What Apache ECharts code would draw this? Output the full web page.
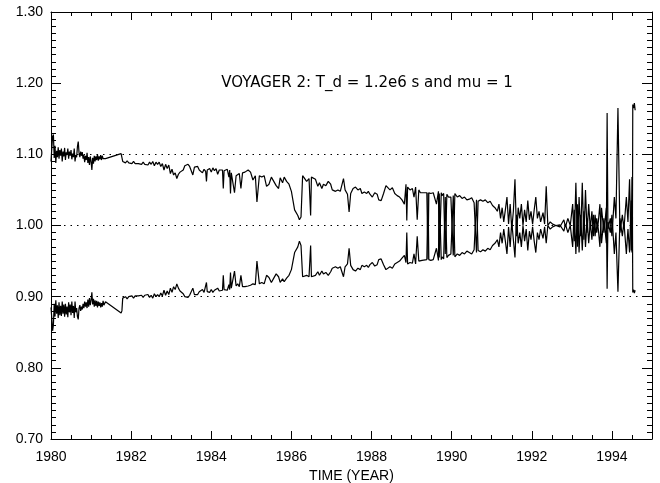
<!DOCTYPE html>
<html>
<head>
<meta charset="utf-8">
<script src="https://cdn.jsdelivr.net/npm/echarts@6/dist/echarts.min.js"></script>
<style>
  html, body { margin: 0; padding: 0; background: #fff; }
  #chart { width: 660px; height: 483px; }
</style>
</head>
<body>
<div id="chart"></div>
<script>
// time in decimal years
var years = [
  1980.00,1980.02,1980.04,1980.06,1980.08,1980.10,1980.12,1980.14,1980.16,1980.18,
  1980.20,1980.22,1980.24,1980.26,1980.28,1980.30,1980.32,1980.34,1980.36,1980.38,
  1980.40,1980.42,1980.44,1980.46,1980.48,1980.50,1980.52,1980.54,1980.56,1980.58,
  1980.60,1980.62,1980.64,1980.66,1980.68,1980.70,1980.72,1980.74,1980.76,1980.78,
  1980.80,1980.82,1980.84,1980.86,1980.88,1980.90,1980.92,1980.94,1980.96,1980.98,
  1981.00,1981.02,1981.04,1981.06,1981.08,1981.10,1981.12,1981.14,1981.16,1981.18,
  1981.20,1981.22,1981.24,1981.26,1981.28,1981.30,1981.32,1981.36,
  1981.75,1981.77,1981.79,1981.82,1981.86,1981.90,1981.94,1981.98,1982.02,1982.06,
  1982.10,1982.14,1982.18,1982.22,1982.26,1982.30,1982.34,1982.38,1982.42,1982.46,
  1982.50,1982.54,1982.58,1982.62,1982.66,1982.70,1982.74,1982.78,1982.82,1982.86,
  1982.90,1982.94,1982.98,1983.02,1983.06,1983.10,1983.14,1983.18,1983.22,1983.26,
  1983.30,1983.34,1983.38,1983.42,1983.46,1983.50,1983.54,1983.58,1983.62,1983.66,
  1983.70,1983.74,1983.78,1983.82,1983.86,1983.88,1983.90,1983.96,1984.00,1984.04,
  1984.08,1984.12,1984.16,1984.20,1984.24,1984.28,1984.30,1984.32,1984.40,1984.44,
  1984.46,1984.48,1984.50,1984.54,1984.58,1984.62,1984.66,1984.70,1984.74,1984.78,
  1984.84,1984.92,1984.98,1985.04,1985.08,1985.10,1985.14,1985.17,1985.20,1985.26,
  1985.32,1985.38,1985.44,1985.50,1985.56,1985.62,1985.68,1985.72,1985.78,1985.82,
  1985.88,1985.94,1986.00,1986.04,1986.08,1986.12,1986.16,1986.20,1986.24,1986.28,
  1986.32,1986.38,1986.44,1986.48,1986.50,1986.54,1986.60,1986.66,1986.70,1986.76,
  1986.80,1986.86,1986.92,1986.98,1987.02,1987.06,1987.10,1987.16,1987.22,1987.26,
  1987.30,1987.34,1987.40,1987.44,1987.48,1987.54,1987.60,1987.66,1987.72,1987.76,
  1987.82,1987.88,1987.92,1987.96,1988.02,1988.08,1988.14,1988.18,1988.24,1988.30,
  1988.36,1988.40,1988.46,1988.52,1988.58,1988.64,1988.70,1988.76,1988.82,1988.86,
  1988.88,1988.90,1988.96,1989.02,1989.06,1989.10,1989.14,1989.18,1989.22,1989.26,
  1989.38,1989.41,1989.43,1989.48,1989.54,1989.58,1989.62,1989.67,1989.69,1989.74,
  1989.76,1989.80,1989.84,1989.88,1989.92,1989.98,1990.04,1990.08,1990.14,1990.20,
  1990.26,1990.32,1990.38,1990.44,1990.50,1990.56,1990.62,1990.66,1990.72,1990.78,
  1990.84,1990.90,1990.96,1991.02,1991.08,1991.14,1991.18,1991.22,1991.26,1991.30,
  1991.34,1991.38,1991.42,1991.46,1991.50,1991.54,1991.58,1991.62,1991.66,1991.70,
  1991.74,1991.78,1991.82,1991.86,1991.90,1991.94,1991.98,1992.02,1992.06,1992.10,
  1992.14,1992.18,1992.22,1992.28,1992.32,1992.36,1992.40,1992.46,1992.52,1992.60,
  1992.70,1992.80,1992.84,1992.90,1992.96,1993.02,1993.06,1993.10,1993.14,1993.18,
  1993.22,1993.26,1993.30,1993.34,1993.38,1993.42,1993.46,1993.50,1993.54,1993.58,
  1993.62,1993.66,1993.70,1993.74,1993.80,1993.86,1993.88,1993.90,1993.96,1994.00,
  1994.06,1994.10,1994.15,1994.20,1994.26,1994.30,1994.36,1994.40,1994.44,1994.48,
  1994.50,1994.51,1994.52,1994.54,1994.56,1994.58
];

// upper branch
var upper = [
  1.090,1.108,1.125,1.128,1.095,1.112,1.088,1.105,1.096,1.110,
  1.094,1.106,1.098,1.108,1.090,1.104,1.097,1.109,1.092,1.103,
  1.099,1.108,1.094,1.104,1.098,1.106,1.093,1.101,1.096,1.108,
  1.090,1.099,1.096,1.111,1.118,1.102,1.096,1.104,1.098,1.103,
  1.094,1.099,1.089,1.098,1.092,1.102,1.088,1.096,1.085,1.097,
  1.090,1.078,1.095,1.087,1.098,1.090,1.097,1.092,1.100,1.091,
  1.097,1.093,1.099,1.092,1.098,1.094,1.096,1.094,
  1.101,1.099,1.090,1.092,1.088,1.091,1.088,1.090,1.087,1.090,
  1.087,1.089,1.087,1.089,1.086,1.089,1.086,1.088,1.085,1.089,
  1.086,1.090,1.084,1.089,1.086,1.089,1.083,1.087,1.078,1.086,
  1.080,1.085,1.073,1.079,1.071,1.074,1.066,1.072,1.075,1.073,
  1.078,1.084,1.082,1.086,1.083,1.085,1.071,1.082,1.080,1.083,
  1.078,1.080,1.074,1.079,1.076,1.062,1.078,1.080,1.075,1.081,
  1.077,1.080,1.072,1.078,1.076,1.078,1.052,1.077,1.079,1.068,
  1.078,1.045,1.074,1.076,1.046,1.070,1.068,1.073,1.052,1.074,
  1.075,1.078,1.075,1.064,1.062,1.070,1.033,1.034,1.070,1.068,
  1.070,1.055,1.058,1.068,1.062,1.056,1.052,1.067,1.060,1.068,
  1.062,1.058,1.048,1.035,1.022,1.024,1.014,1.008,1.012,1.070,
  1.068,1.062,1.066,1.014,1.068,1.070,1.065,1.055,1.060,1.052,
  1.058,1.056,1.062,1.058,1.050,1.052,1.048,1.050,1.048,1.048,
  1.066,1.050,1.044,1.019,1.045,1.052,1.054,1.050,1.052,1.045,
  1.047,1.045,1.048,1.044,1.040,1.046,1.044,1.036,1.035,1.045,
  1.056,1.054,1.050,1.053,1.045,1.042,1.040,1.036,1.030,1.058,
  1.007,1.054,1.050,1.052,1.040,1.054,1.008,1.050,1.046,1.047,
  1.046,0.953,1.046,1.045,1.046,1.044,1.030,1.048,0.955,1.046,
  1.042,1.045,0.960,1.044,1.040,1.040,0.958,1.045,1.040,1.042,
  1.038,1.040,1.036,1.037,1.039,1.032,0.962,1.034,1.036,1.034,
  1.036,1.032,1.034,1.028,1.025,1.020,1.030,1.010,1.025,1.005,
  1.022,1.040,1.002,1.030,0.995,1.020,1.065,0.985,1.025,1.010,
  1.030,1.000,1.022,1.005,1.035,1.008,1.020,1.002,1.022,1.040,
  1.010,1.020,1.005,1.018,1.002,1.055,1.000,1.005,1.002,1.000,
  0.998,1.008,0.998,1.010,1.000,1.030,0.978,1.060,0.970,1.040,
  0.985,1.060,0.980,1.050,0.990,1.030,0.995,1.020,0.985,1.015,
  0.990,1.005,1.030,0.975,1.010,0.975,1.158,0.995,1.010,0.985,
  1.040,1.010,1.165,0.990,1.015,0.995,1.040,1.005,1.065,0.965,
  1.068,0.965,1.170,1.165,1.172,1.162
];

// lower branch
var lower = [
  0.885,0.870,0.852,0.860,0.890,0.872,0.895,0.876,0.888,0.870,
  0.892,0.874,0.887,0.873,0.893,0.876,0.889,0.872,0.890,0.875,
  0.886,0.871,0.892,0.878,0.889,0.874,0.893,0.877,0.887,0.870,
  0.893,0.878,0.884,0.872,0.868,0.884,0.888,0.880,0.886,0.882,
  0.890,0.884,0.893,0.886,0.892,0.884,0.896,0.886,0.898,0.888,
  0.895,0.906,0.889,0.897,0.886,0.895,0.887,0.894,0.885,0.893,
  0.887,0.892,0.885,0.891,0.886,0.894,0.888,0.893,
  0.877,0.880,0.898,0.896,0.900,0.897,0.900,0.898,0.901,0.898,
  0.901,0.899,0.901,0.899,0.902,0.899,0.902,0.900,0.903,0.899,
  0.902,0.898,0.904,0.900,0.903,0.900,0.905,0.901,0.909,0.902,
  0.908,0.903,0.912,0.906,0.914,0.910,0.918,0.912,0.908,0.910,
  0.904,0.900,0.902,0.899,0.902,0.901,0.912,0.903,0.905,0.903,
  0.907,0.905,0.910,0.906,0.908,0.920,0.907,0.906,0.910,0.906,
  0.909,0.907,0.912,0.908,0.910,0.909,0.930,0.910,0.909,0.917,
  0.910,0.934,0.912,0.911,0.936,0.915,0.918,0.914,0.930,0.914,
  0.914,0.915,0.916,0.918,0.920,0.917,0.950,0.948,0.918,0.920,
  0.918,0.930,0.927,0.920,0.926,0.932,0.928,0.920,0.925,0.921,
  0.926,0.930,0.938,0.950,0.962,0.960,0.970,0.978,0.972,0.928,
  0.927,0.930,0.928,0.972,0.928,0.926,0.930,0.935,0.930,0.936,
  0.932,0.934,0.930,0.935,0.940,0.938,0.942,0.940,0.942,0.940,
  0.928,0.942,0.946,0.968,0.944,0.938,0.936,0.940,0.938,0.944,
  0.942,0.944,0.941,0.945,0.948,0.943,0.945,0.952,0.953,0.945,
  0.938,0.940,0.942,0.940,0.946,0.948,0.950,0.954,0.958,0.948,
  0.990,0.946,0.948,0.947,0.960,0.946,0.985,0.950,0.952,0.951,
  0.952,1.046,0.952,0.951,0.952,0.953,0.968,0.951,1.045,0.952,
  0.956,0.953,1.040,0.955,0.958,0.960,1.042,0.956,0.960,0.958,
  0.962,0.960,0.964,0.962,0.960,0.966,1.036,0.965,0.963,0.966,
  0.964,0.968,0.966,0.972,0.975,0.980,0.970,0.990,0.975,0.995,
  0.978,0.960,0.998,0.970,1.005,0.980,0.955,1.015,0.975,0.990,
  0.970,1.000,0.978,0.995,0.965,0.992,0.980,0.998,0.978,0.962,
  0.990,0.980,0.995,0.982,0.998,0.975,1.000,0.995,0.998,1.000,
  1.001,0.992,1.002,0.990,1.000,0.970,1.022,0.960,1.030,0.962,
  1.015,0.965,1.020,0.970,1.010,0.975,1.005,0.980,1.015,0.985,
  1.010,0.995,0.970,1.025,0.990,1.025,0.911,1.005,0.990,1.015,
  0.960,0.990,0.907,1.010,0.985,1.005,0.960,0.995,0.962,1.035,
  0.962,1.035,0.906,0.910,0.905,0.909
];

var refLevels = [0.9, 1.0, 1.1];
var yearLabels = [1980, 1982, 1984, 1986, 1988, 1990, 1992, 1994];
var titleText = 'VOYAGER 2: T_d = 1.2e6 s and mu = 1';

var font = 'Liberation Sans';

function pairs(xs, ys) {
  var out = [];
  for (var i = 0; i < xs.length; i++) out.push([xs[i], ys[i]]);
  return out;
}

function xAxisDef(pos, withLabels) {
  return {
    type: 'value', position: pos, min: 1980, max: 1995, interval: 2,
    name: withLabels ? 'TIME (YEAR)' : '',
    nameLocation: 'middle', nameGap: 29,
    nameTextStyle: { fontFamily: font, fontSize: 14, color: '#000' },
    axisLine: { show: true, onZero: false, lineStyle: { color: '#000', width: 1 } },
    axisTick: { show: true, inside: true, length: 8, lineStyle: { color: '#000', width: 1 } },
    minorTick: { show: true, splitNumber: 4, length: 4, lineStyle: { color: '#000', width: 1 } },
    splitLine: { show: false },
    axisLabel: {
      show: withLabels, showMaxLabel: false,
      fontFamily: font, fontSize: 14, color: '#000', margin: 11,
      formatter: function (v) { return yearLabels.indexOf(v) >= 0 ? String(v) : ''; }
    }
  };
}

function yAxisDef(pos, withLabels) {
  return {
    type: 'value', position: pos, min: 0.7, max: 1.3, interval: 0.1,
    axisLine: { show: true, onZero: false, lineStyle: { color: '#000', width: 1 } },
    axisTick: { show: true, inside: true, length: 10, lineStyle: { color: '#000', width: 1 } },
    minorTick: { show: true, splitNumber: 10, length: 5, lineStyle: { color: '#000', width: 1 } },
    splitLine: { show: false },
    axisLabel: {
      show: withLabels,
      fontFamily: font, fontSize: 14, color: '#000', margin: 8,
      formatter: function (v) { return v.toFixed(2); }
    }
  };
}

var chart = echarts.init(document.getElementById('chart'));

var option = {
  backgroundColor: '#fff',
  animation: false,
  title: {
    text: titleText,
    left: 362, top: 71, textAlign: 'center',
    textStyle: { fontFamily: 'DejaVu Sans', fontWeight: 'normal', fontSize: 15, color: '#000' }
  },
  grid: { left: 51, right: 8, top: 12, bottom: 44, outerBoundsMode: 'none', containLabel: false },
  xAxis: [xAxisDef('bottom', true), xAxisDef('top', false)],
  yAxis: [yAxisDef('left', true), yAxisDef('right', false)],
  series: [
    {
      type: 'line', xAxisIndex: 0, yAxisIndex: 0,
      data: pairs(years, upper),
      showSymbol: false, symbol: 'none',
      lineStyle: { color: '#000', width: 1.2 },
      markLine: {
        silent: true, symbol: 'none', label: { show: false },
        lineStyle: { color: '#000', type: [1.5, 5], width: 1 },
        data: refLevels.map(function (v) { return { yAxis: v }; })
      }
    },
    {
      type: 'line', xAxisIndex: 0, yAxisIndex: 0,
      data: pairs(years, lower),
      showSymbol: false, symbol: 'none',
      lineStyle: { color: '#000', width: 1.2 }
    }
  ]
};

chart.setOption(option);
</script>
</body>
</html>
